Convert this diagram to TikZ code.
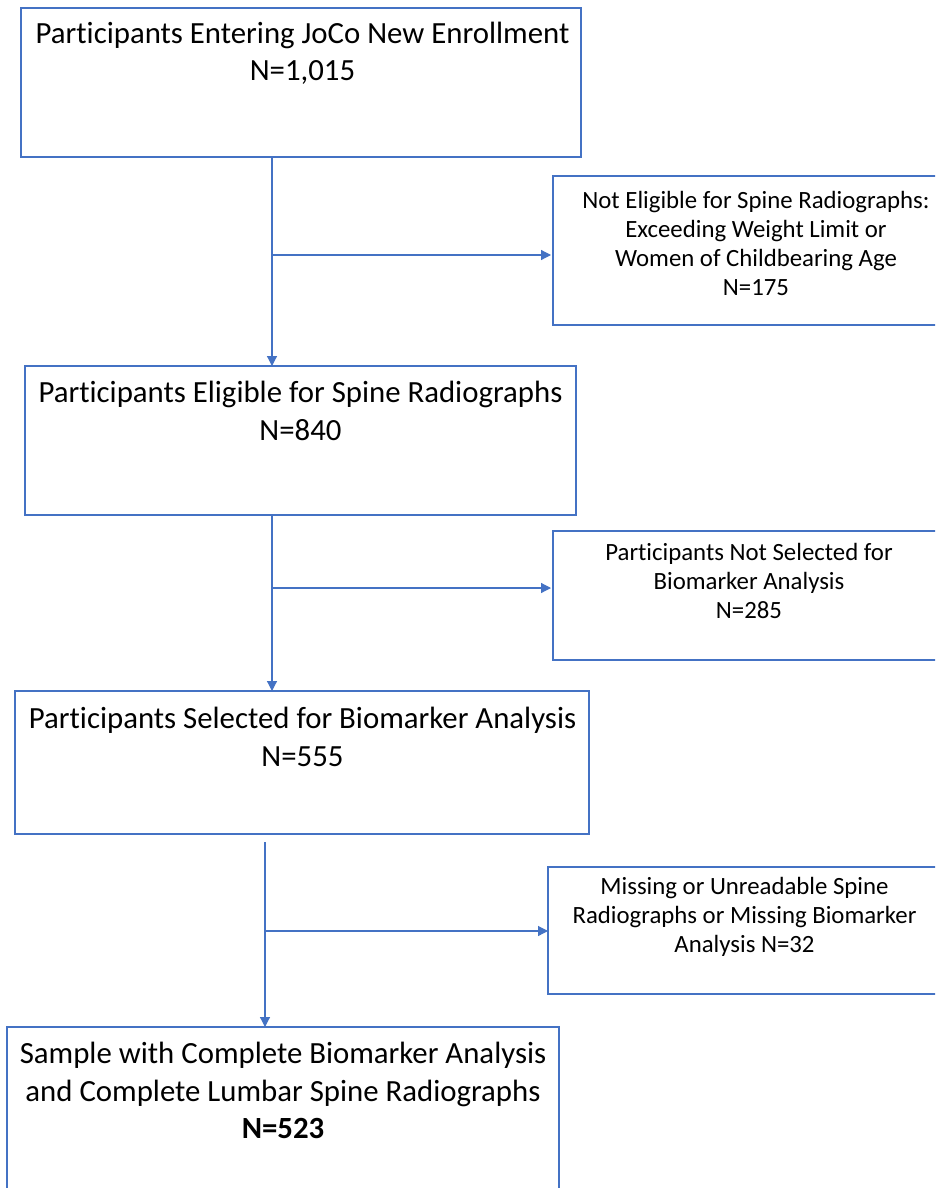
\documentclass[tikz,border=0pt]{standalone}
\usepackage{fontspec}
\setmainfont{Carlito}[Ligatures={NoCommon}]
\usetikzlibrary{arrows.meta}
\definecolor{obl}{HTML}{4472C4}
\begin{document}
\begin{tikzpicture}[x=1pt,y=-1pt,
 box/.style={draw=obl,line width=1.5pt,inner sep=0pt,outer sep=0pt,anchor=north west},
 big/.style={font=\fontsize{30.8}{37.5}\selectfont,align=center,inner sep=0pt},
 small/.style={font=\fontsize{24.8}{29}\selectfont,align=center,inner sep=0pt},
 arr/.style={draw=obl,line width=1.2pt,-{Triangle[length=10pt,width=10pt]}},
 ln/.style={draw=obl,line width=1.2pt}]
\clip (0,0) rectangle (935,1188);
\fill[white] (0,0) rectangle (935,1188);
% main boxes
\node[box,minimum width=560pt,minimum height=149pt] (b1) at (21,8) {};
\node[box,minimum width=551pt,minimum height=149pt] (b2) at (25,366) {};
\node[box,minimum width=574pt,minimum height=143pt] (b3) at (15,691) {};
\node[box,minimum width=552pt,minimum height=190pt] (b4) at (7,1027) {};
% side boxes
\node[box,minimum width=406pt,minimum height=149pt] (s1) at (553,176) {};
\node[box,minimum width=406pt,minimum height=129pt] (s2) at (553,531) {};
\node[box,minimum width=393pt,minimum height=127pt] (s3) at (548,867) {};
% texts
\node[big] (t1) at (302.5,53.5) {Participants Entering JoCo New Enrollment\\N=1,015};
\node[big] (t2) at (300.5,411) {Participants Eligible for Spine Radiographs\\N=840};
\node[big] (t3) at (302.5,737) {Participants Selected for Biomarker Analysis\\N=555};
\node[big] (t4) at (283,1090.5) {Sample with Complete Biomarker Analysis\\and Complete Lumbar Spine Radiographs\\\textbf{N=523}};
\node[small] (ts1) at (756,243) {Not Eligible for Spine Radiographs:\\Exceeding Weight Limit or\\Women of Childbearing Age\\N=175};
\node[small] (ts2) at (749,581) {Participants Not Selected for\\Biomarker Analysis\\N=285};
\node[small] (ts3) at (744.5,917) {Missing or Unreadable Spine\\Radiographs or Missing Biomarker\\Analysis N=32};
% junctions
\coordinate (j1) at (272,255);
\coordinate (j2) at (272,588);
\coordinate (j3) at (265,931);
% connectors
\draw[arr] (b1.south -| j1) -- (b2.north -| j1);
\draw[arr,shorten >=2pt] (j1) -- (s1.west |- j1);
\draw[arr] (b2.south -| j2) -- (b3.north -| j2);
\draw[arr,shorten >=2pt] (j2) -- (s2.west |- j2);
\draw[arr,shorten <=8pt] (b3.south -| j3) -- (b4.north -| j3);
\draw[arr] (j3) -- (s3.west |- j3);
\end{tikzpicture}
\end{document}
